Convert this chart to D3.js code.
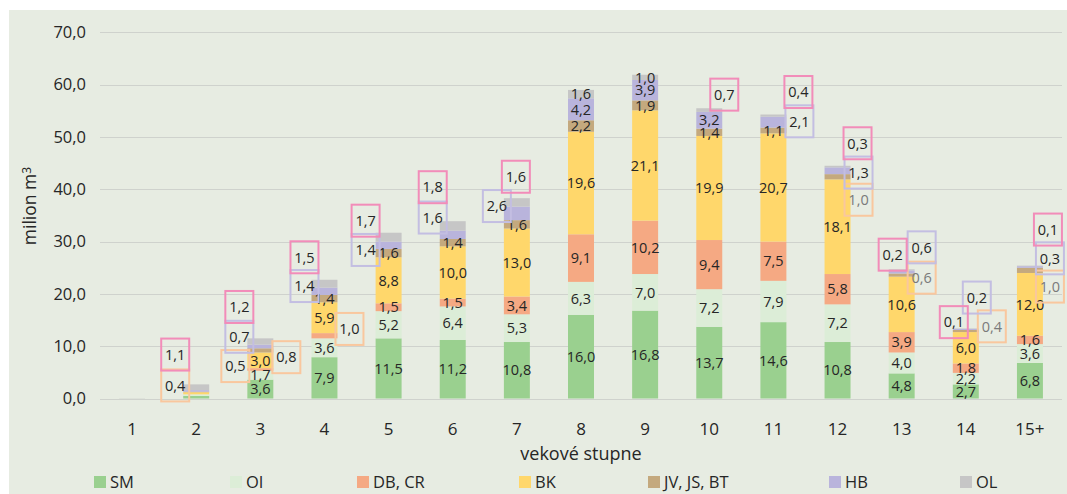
<html>
<head>
<meta charset="utf-8">
<script src="https://cdn.jsdelivr.net/npm/d3@7"></script>
<style>
  body { margin: 0; padding: 0; background: #ffffff; }
  svg text { font-family: "Open Sans", "Noto Sans", sans-serif; fill: #262626; }
</style>
</head>
<body>
<div id="chart"></div>
<script>
// age classes
const categories = ["1", "2", "3", "4", "5", "6", "7", "8", "9", "10", "11", "12", "13", "14", "15+"];
const seriesNames = ["SM", "OI", "DB, CR", "BK", "JV, JS, BT", "HB", "OL"];

// milion m3 per tree species group
const SM  = [0.0, 0.5, 3.6, 7.9, 11.5, 11.2, 10.8, 16.0, 16.8, 13.7, 14.6, 10.8, 4.8, 2.7, 6.8];
const OI  = [0.0, 0.3, 1.7, 3.6, 5.2, 6.4, 5.3, 6.3, 7.0, 7.2, 7.9, 7.2, 4.0, 2.2, 3.6];
const DB  = [0.0, 0.0, 0.5, 1.0, 1.5, 1.5, 3.4, 9.1, 10.2, 9.4, 7.5, 5.8, 3.9, 1.8, 1.6];
const BK  = [0.0, 0.4, 3.0, 5.9, 8.8, 10.0, 13.0, 19.6, 21.1, 19.9, 20.7, 18.1, 10.6, 6.0, 12.0];
const JV  = [0.0, 0.1, 0.8, 1.4, 1.6, 1.4, 1.6, 2.2, 1.9, 1.4, 1.1, 1.0, 0.6, 0.4, 1.0];
const HB  = [0.0, 0.3, 0.7, 1.4, 1.4, 1.6, 2.6, 4.2, 3.9, 3.2, 2.1, 1.3, 0.6, 0.2, 0.3];
const OL  = [0.05, 1.1, 1.2, 1.5, 1.7, 1.8, 1.6, 1.6, 1.0, 0.7, 0.4, 0.3, 0.2, 0.1, 0.1];
const seriesValues = [SM, OI, DB, BK, JV, HB, OL];

const yTicks = [0, 10, 20, 30, 40, 50, 60, 70];

const colors = ["#9ad08f", "#dcedd7", "#f5a983", "#ffd76b", "#c4a97e", "#b9b4dc", "#c6c6c6"];
const boxColors = { 3: "#f9c79e", 2: "#f9c79e", 4: "#f9c79e", 5: "#c3bee2", 6: "#f28cb9" };

// small values moved out of the bar: [category, series index, x shift px, level on value axis]
const callouts = [
  ["2", 3, -21, 2.5], ["2", 6, -21, 8.4],
  ["3", 2, -25, 6.2], ["3", 4, 26, 7.9], ["3", 5, -21, 11.8], ["3", 6, -21, 17.5],
  ["4", 2, 25, 13.3], ["4", 5, -20, 21.5], ["4", 6, -20, 27.0],
  ["5", 5, -23, 28.4], ["5", 6, -23, 34.0],
  ["6", 5, -20, 34.6], ["6", 6, -20, 40.4],
  ["7", 5, -20, 36.8], ["7", 6, -1, 42.4],
  ["10", 6, 15, 58.1],
  ["11", 5, 26, 53.0], ["11", 6, 25, 58.6],
  ["12", 4, 21, 38.0], ["12", 5, 21, 43.2], ["12", 6, 20, 48.8],
  ["13", 4, 20, 23.1], ["13", 5, 20, 28.9], ["13", 6, -9, 27.5],
  ["14", 4, 26, 13.8], ["14", 5, 11, 19.3], ["14", 6, -12, 14.6],
  ["15+", 4, 20, 21.4], ["15+", 5, 20, 26.8], ["15+", 6, 18, 32.3]
];
const legendX = [94, 230, 357, 519, 648, 829, 960];

const W = 1067, H = 494;
const fmt = v => d3.format(".1f")(v).replace(".", ",");

const svg = d3.select("#chart").append("svg").attr("width", W).attr("height", H);
svg.append("rect").attr("x", 9).attr("y", 10).attr("width", W - 9).attr("height", H - 10).attr("fill", "#e7ece2");

const x = d3.scaleBand().domain(categories).range([100, 1062]).paddingInner(0.595).paddingOuter(0.2975);
const y = d3.scaleLinear().domain([0, 70]).range([398.5, 32.4]);

// grid + y labels
svg.append("g").selectAll("line").data(yTicks).join("line")
  .attr("x1", 100).attr("x2", 1062)
  .attr("y1", d => Math.round(y(d)) + 0.5).attr("y2", d => Math.round(y(d)) + 0.5)
  .attr("stroke", "#cfd2cd").attr("stroke-width", 1.2);
svg.append("g").selectAll("text").data(yTicks).join("text")
  .attr("x", 86).attr("y", d => y(d)).attr("dy", "0.35em")
  .attr("text-anchor", "end").style("font-size", "16.5px").text(fmt);

// x labels
svg.append("g").selectAll("text").data(categories).join("text")
  .attr("x", d => x(d) + x.bandwidth() / 2).attr("y", 429).attr("dy", "0.35em")
  .attr("text-anchor", "middle").style("font-size", "17px").text(d => d);

svg.append("text").attr("x", 581).attr("y", 454).attr("dy", "0.35em")
  .attr("text-anchor", "middle").style("font-size", "18px").text("vekové stupne");

const yt = svg.append("text").attr("transform", "translate(36,206) rotate(-90)")
  .attr("text-anchor", "middle").style("font-size", "17.5px");
yt.append("tspan").text("milion  m");
yt.append("tspan").attr("dy", "-0.45em").style("font-size", "12px").text("3");

// stacked bars
const table = categories.map((c, i) => {
  const row = { cat: c };
  seriesNames.forEach((s, k) => row[s] = seriesValues[k][i]);
  return row;
});
const stacked = d3.stack().keys(seriesNames)(table);
const isCallout = (c, k) => callouts.some(o => o[0] === c && o[1] === k);

const layers = svg.append("g").selectAll("g").data(stacked).join("g")
  .attr("fill", (d, k) => colors[k]);
layers.selectAll("rect").data(d => d).join("rect")
  .attr("x", d => x(d.data.cat)).attr("width", x.bandwidth())
  .attr("y", d => y(d[1])).attr("height", d => y(d[0]) - y(d[1]));

// inside labels
stacked.forEach((layer, k) => {
  svg.append("g").selectAll("text")
    .data(layer.filter(d => (d[1] - d[0]) >= 1 && !isCallout(d.data.cat, k)))
    .join("text")
    .attr("x", d => x(d.data.cat) + x.bandwidth() / 2)
    .attr("y", d => y((d[0] + d[1]) / 2)).attr("dy", "0.36em")
    .attr("text-anchor", "middle").style("font-size", "14.5px")
    .text(d => fmt(d[1] - d[0]));
});

// boxed labels
const cg = svg.append("g").selectAll("g").data(callouts).join("g")
  .attr("transform", d => `translate(${x(d[0]) + x.bandwidth() / 2 + d[2]},${y(d[3])})`);
cg.append("rect").attr("x", -14).attr("y", -16).attr("width", 28).attr("height", 32)
  .attr("fill", "none").attr("stroke", d => boxColors[d[1]]).attr("stroke-width", 2);
cg.append("text").attr("text-anchor", "middle").attr("dy", "0.36em").style("font-size", "14.5px")
  .style("fill", d => d[1] === 4 && d[0] !== "3" ? "#7a7a7a" : "#262626")
  .text(d => fmt(seriesValues[d[1]][categories.indexOf(d[0])]));

// legend
const lg = svg.append("g").selectAll("g").data(seriesNames).join("g")
  .attr("transform", (d, k) => `translate(${legendX[k]},476)`);
lg.append("rect").attr("width", 12).attr("height", 12).attr("fill", (d, k) => colors[k]);
lg.append("text").attr("x", 16).attr("y", 6).attr("dy", "0.36em").style("font-size", "16.5px").text(d => d);
</script>
</body>
</html>
